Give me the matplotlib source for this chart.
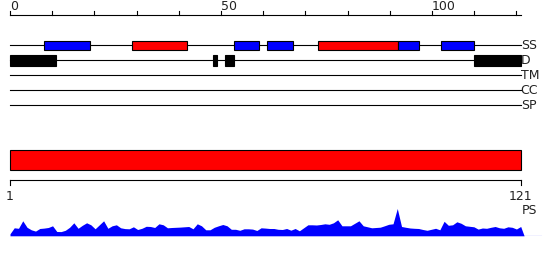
import matplotlib
matplotlib.use('Agg')
import matplotlib.pyplot as plt
from matplotlib.patches import Rectangle

# sequence / tracks
seq_len = 121
track_names = ['SS', 'D', 'TM', 'CC', 'SP']

# secondary structure: H = helix (red), E = strand (blue)
ss_starts = [8, 29, 53, 61, 73, 92, 102]
ss_ends = [19, 42, 59, 67, 92, 97, 110]
ss_types = ['E', 'H', 'E', 'E', 'H', 'E', 'E']

# disorder segments
d_starts = [0, 48, 51, 110]
d_ends = [11, 49, 53, 121]

top_ticks = list(range(0, 121, 10))
top_labels = [0, 50, 100]

# PS profile, one value per residue (1..121)
ps_values = [2, 8, 7.5, 15, 8.5, 6, 4.7, 7.3, 7.7, 8.3,
             10, 4.3, 4.2, 5.5, 8.5, 13, 7.5, 10.5, 13, 11,
             7, 11, 15, 7.5, 10, 11, 8, 7.2, 7, 9,
             6.3, 7.5, 9.5, 9.3, 8.3, 12, 11, 8, 8.3, 8.5,
             8.7, 9, 9.3, 7, 12, 10, 6, 6, 8.5, 10,
             11.3, 10, 6.5, 6.5, 5.5, 7, 7, 6.7, 5.3, 8,
             7.7, 7.3, 7.3, 6.5, 6.3, 7.3, 5.6, 7.3, 5, 8,
             11, 11, 10.8, 11.3, 12, 11.5, 13, 16, 10, 10,
             10, 12.5, 15, 10, 9, 8, 8.3, 8.6, 10, 11.5,
             12, 27.3, 9.3, 8.5, 7.8, 7.5, 7.3, 6.3, 5.5, 6.5,
             7.5, 6, 14.5, 10.5, 11, 14, 12.5, 10, 9.5, 9,
             6.7, 7.8, 7.5, 8.5, 9.3, 8, 7.5, 9, 8.5, 6.8,
             9.3]
residues = list(range(1, seq_len + 1))

W, H = 550, 260
fig = plt.figure(figsize=(W / 100, H / 100), dpi=100)
plt.rcParams['font.family'] = 'DejaVu Sans'
txt = '#222222'
fs = 9

# top part: residue scale 0..121, y in pixel rows
px_top = 510.7 / 121
ax = fig.add_axes([0, 0, 1, 1])
ax.set_xlim(-10 / px_top, (W - 10) / px_top)
ax.set_ylim(H, 0)
ax.axis('off')

ax.plot([0, seq_len], [15, 15], color='black', lw=0.8)
for t in top_ticks:
    ax.plot([t, t], [11, 15], color='black', lw=0.8)
for t in top_labels:
    ax.text(t, 13, str(t), ha='left', va='bottom', fontsize=fs, color=txt)

for i, name in enumerate(track_names):
    y = 45.3 + 15 * i
    ax.plot([0, seq_len], [y, y], color='black', lw=0.8, zorder=1)
    ax.text(seq_len, y, name, ha='left', va='center', fontsize=fs, color=txt)

for s, e, t in zip(ss_starts, ss_ends, ss_types):
    c = '#ff0000' if t == 'H' else '#0000ff'
    ax.add_patch(Rectangle((s, 40.7), e - s, 9.6, facecolor=c,
                           edgecolor='black', lw=0.8, zorder=2))
for s, e in zip(d_starts, d_ends):
    ax.add_patch(Rectangle((s, 55.2), e - s, 10.4, facecolor='black',
                           edgecolor='black', lw=0.8, zorder=2))

# bottom part: residue scale 1..121
px_bot = 510.7 / 120
xlim_bot = (1 - 10 / px_bot, 1 + (W - 10) / px_bot)
ax2 = fig.add_axes([0, 0, 1, 1])
ax2.set_xlim(*xlim_bot)
ax2.set_ylim(H, 0)
ax2.axis('off')

ax2.add_patch(Rectangle((1, 150.3), seq_len - 1, 20, facecolor='#ff0000',
                        edgecolor='black', lw=0.8))
ax2.plot([1, seq_len], [180.3, 180.3], color='black', lw=0.8)
for t in [1, seq_len]:
    ax2.plot([t, t], [180.3, 184.5], color='black', lw=0.8)
    ax2.text(t, 196, str(t), ha='center', va='center', fontsize=fs, color=txt)
ax2.text(seq_len + 0.2, 211, 'PS', ha='left', va='center', fontsize=fs, color=txt)

# PS profile
ax3 = fig.add_axes([0, (H - 235.8) / H, 1, 35 / H])
ax3.set_xlim(*xlim_bot)
ax3.set_ylim(0, 35)
ax3.axis('off')
xs = residues + [seq_len + 0.8]
ys = ps_values + [0]
ax3.fill_between(xs, ys, 0, color='#0000ff', lw=0)
ax3.plot([seq_len + 0.8, seq_len + 4.7], [0.3, 0.3], color='#0000ff', lw=0.8)

fig.savefig('out.png', dpi=100)
